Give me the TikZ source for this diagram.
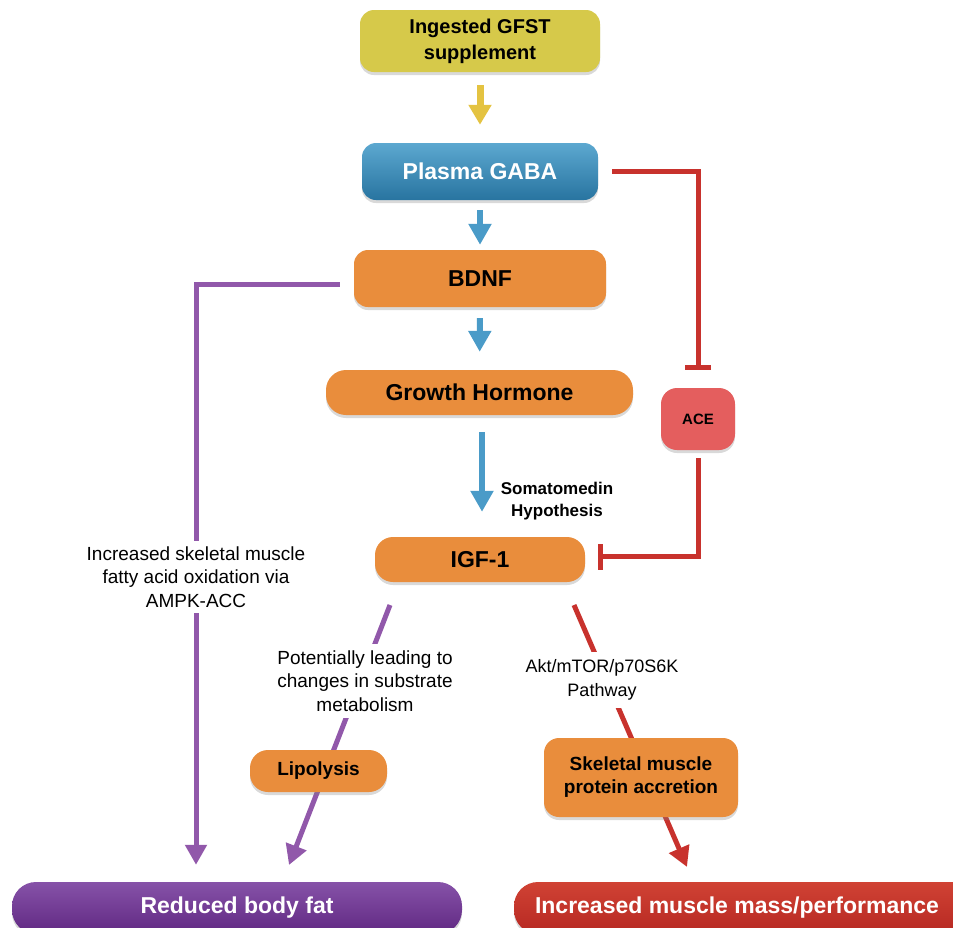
\documentclass[tikz,border=0pt]{standalone}
\usepackage{fontspec}
\setmainfont{Liberation Sans}
\usetikzlibrary{arrows.meta,shadows,backgrounds,calc}
\definecolor{ybox}{RGB}{214,201,74}
\definecolor{btop}{RGB}{92,168,208}
\definecolor{bbot}{RGB}{40,116,160}
\definecolor{obox}{RGB}{233,141,60}
\definecolor{acec}{RGB}{228,94,94}
\definecolor{ptop}{RGB}{134,82,168}
\definecolor{pbot}{RGB}{96,40,130}
\definecolor{rtop}{RGB}{208,66,52}
\definecolor{rbot}{RGB}{182,40,34}
\definecolor{pline}{RGB}{145,88,170}
\definecolor{rline}{RGB}{200,50,45}
\definecolor{bline}{RGB}{74,155,200}
\definecolor{yline}{RGB}{228,195,65}
\begin{document}
\begin{tikzpicture}[x=1pt,y=-1pt,
  box/.style={rounded corners=14pt, align=center, inner sep=0pt,
    font=\bfseries\fontsize{23}{27}\selectfont,
    drop shadow={shadow xshift=0pt, shadow yshift=-3pt, opacity=0.3}},
  ybx/.style={box, fill=ybox},
  bbx/.style={box, top color=btop, bottom color=bbot, text=white},
  obx/.style={box, fill=obox},
  acebx/.style={box, fill=acec},
  tlabel/.style={align=center, fill=white, inner xsep=3pt,
    font=\fontsize{19}{23.5}\selectfont},
  yarr/.style={draw=yline, line width=7pt, -{Triangle[width=22pt,length=20pt]}},
  barr/.style={draw=bline, line width=6pt, -{Triangle[width=22pt,length=21pt]}},
  parr/.style={draw=pline, line width=5pt, -{Triangle[width=21pt,length=20pt]}},
  rarr/.style={draw=rline, line width=5pt, -{Triangle[width=21pt,length=20pt]}},
  inh/.style={draw=rline, line width=5pt, -{Bar[width=26pt]}}
]
\useasboundingbox (0,0) rectangle (953,927);
\clip (0,0) rectangle (953,927);

% boxes
\node[ybx, minimum width=240pt, minimum height=62pt,
  font=\bfseries\fontsize{20}{26}\selectfont] (gfst) at (480,41) {Ingested GFST\\supplement};
\node[bbx, minimum width=236pt, minimum height=57pt] (gaba) at (480,171.5) {Plasma GABA};
\node[obx, minimum width=252pt, minimum height=57pt] (bdnf) at (480,278.5) {BDNF};
\node[obx, minimum width=307pt, minimum height=45pt, rounded corners=20pt] (gh) at (479.5,392.5) {Growth Hormone};
\node[obx, minimum width=210pt, minimum height=45pt, rounded corners=18pt] (igf) at (480,559.5) {IGF-1};
\node[acebx, minimum width=74pt, minimum height=62pt, rounded corners=16pt,
  font=\bfseries\fontsize{15}{18}\selectfont] (ace) at (698,419) {ACE};
\node[align=center, font=\bfseries\fontsize{17}{22}\selectfont] (soma) at (557,501) {Somatomedin\\Hypothesis};

% labels on lines
\node[tlabel, inner ysep=6pt] (fao) at (196,577) {Increased skeletal muscle\\fatty acid oxidation via\\AMPK-ACC};
\node[tlabel, inner ysep=7pt] (pot) at (365,681) {Potentially leading to\\changes in substrate\\metabolism};
\node[tlabel, inner ysep=8pt, font=\fontsize{18}{24}\selectfont] (akt) at (602,680) {Akt/mTOR/p70S6K\\Pathway};

\node[obx, minimum width=137pt, minimum height=42pt, rounded corners=18pt,
  font=\bfseries\fontsize{19}{23}\selectfont] (lip) at (318.5,771) {Lipolysis};
\node[obx, minimum width=194pt, minimum height=79pt, rounded corners=15pt,
  font=\bfseries\fontsize{19}{23}\selectfont] (skm) at (641,777.5) {Skeletal muscle\\protein accretion};

% bottom bars
\node[box, top color=ptop, bottom color=pbot, text=white, minimum width=450pt,
  minimum height=52pt, rounded corners=24pt] (rbf) at (237,908) {Reduced body fat};
\shade[top color=rtop, bottom color=rbot, rounded corners=24pt,
  drop shadow={shadow xshift=0pt, shadow yshift=-3pt, opacity=0.3}] (514,882) rectangle (1000,934);
\node[text=white, font=\bfseries\fontsize{23}{27}\selectfont] (imm) at (737,908) {Increased muscle mass/performance};

\coordinate (pa) at (390,605);
\coordinate (pb) at (289,865);
\coordinate (ra) at (574,605);
\coordinate (rb) at (687,867);

\begin{scope}[on background layer]
\draw[yarr, shorten <=13pt, shorten >=18pt] (gfst) -- (gaba);
\draw[barr, shorten <=10pt, shorten >=5pt] (gaba) -- (bdnf);
\draw[barr, shorten <=11pt, shorten >=18pt] (bdnf) -- (gh);
\draw[barr, shorten <=17pt, shorten >=25pt] (gh.south -| 482,0) -- (igf.north -| 482,0);
\draw[inh] ([xshift=14pt]gaba.east) -| ([yshift=18pt]ace.north);
\draw[inh] ([yshift=-8pt]ace.south) |- ([xshift=13pt,yshift=3pt]igf.east);
\draw[parr, shorten >=17pt] ([xshift=-14pt,yshift=-6pt]bdnf.west) -| (fao.center) -- (fao.center |- rbf.north);
\draw[parr] (pa) -- (pb);
\draw[rarr] (ra) -- (rb);
\end{scope}
\end{tikzpicture}
\end{document}
